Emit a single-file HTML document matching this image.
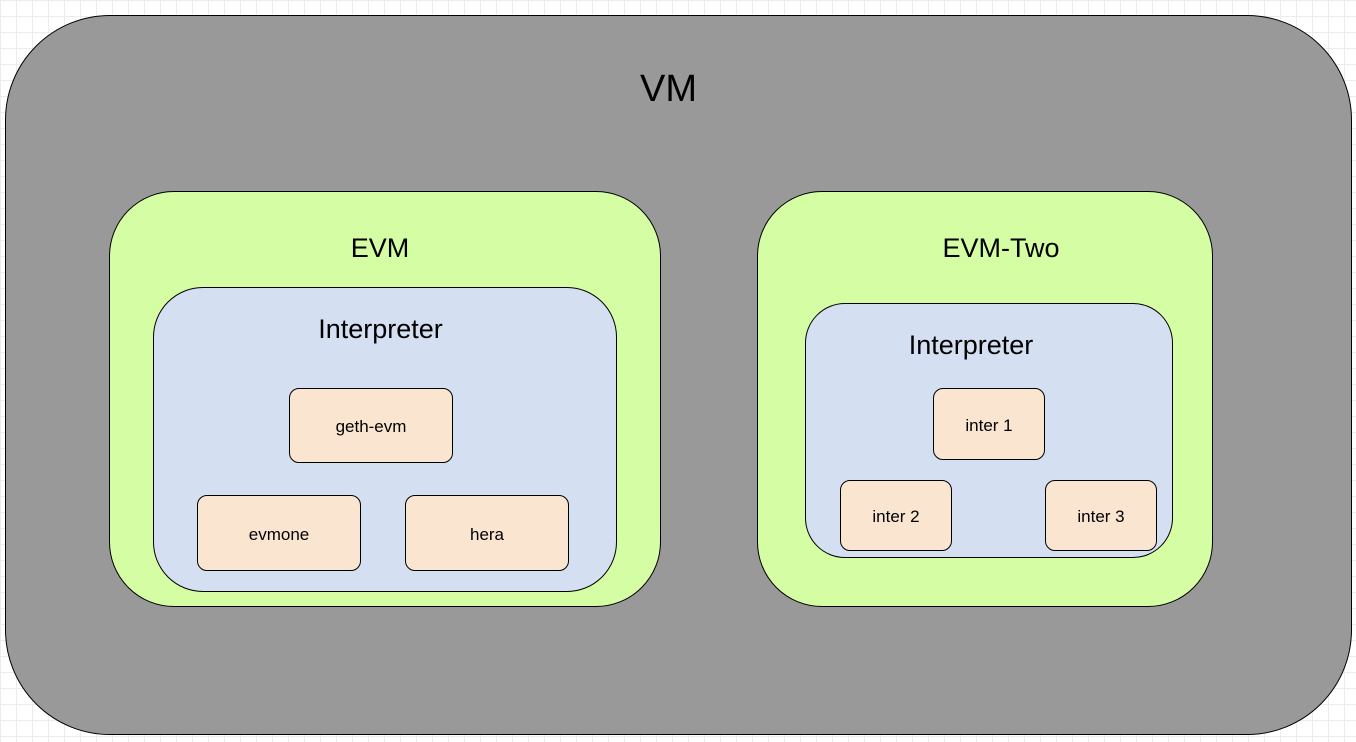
<!DOCTYPE html>
<html><head><style>
body{margin:0;width:1356px;height:742px;overflow:hidden;background:#fff;
background-image:linear-gradient(#ececec 1px,transparent 1px),linear-gradient(90deg,#ececec 1px,transparent 1px);
background-size:16px 16px;font-family:"Liberation Sans",sans-serif;position:relative}
.b{position:absolute;box-sizing:border-box;border:1.5px solid #000}
.t{position:absolute;text-align:center;color:#000}
.s{background:#fae5d0;border-radius:10px;display:flex;align-items:center;justify-content:center;font-size:17px;padding-top:3px}
</style></head><body>
<div class="b" style="left:5px;top:15px;width:1347px;height:720px;border-radius:105px;background:#999"></div>
<div class="t" style="left:5px;width:1327px;top:68px;font-size:38px">VM</div>

<div class="b" style="left:109px;top:191px;width:552px;height:416px;border-radius:65px;background:#d5fda3"></div>
<div class="t" style="left:109px;width:542px;top:233px;font-size:27px">EVM</div>
<div class="b" style="left:153px;top:287px;width:464px;height:305px;border-radius:50px;background:#d4e0f2"></div>
<div class="t" style="left:153px;width:455px;top:314px;font-size:27px">Interpreter</div>
<div class="b s" style="left:289px;top:388px;width:164px;height:75px">geth-evm</div>
<div class="b s" style="left:197px;top:495px;width:164px;height:76px">evmone</div>
<div class="b s" style="left:405px;top:495px;width:164px;height:76px">hera</div>

<div class="b" style="left:757px;top:191px;width:456px;height:416px;border-radius:65px;background:#d5fda3"></div>
<div class="t" style="left:757px;width:488px;top:233px;font-size:27px">EVM-Two</div>
<div class="b" style="left:805px;top:303px;width:368px;height:255px;border-radius:40px;background:#d4e0f2"></div>
<div class="t" style="left:805px;width:332px;top:330px;font-size:27px">Interpreter</div>
<div class="b s" style="left:933px;top:388px;width:112px;height:72px">inter 1</div>
<div class="b s" style="left:840px;top:480px;width:112px;height:71px">inter 2</div>
<div class="b s" style="left:1045px;top:480px;width:112px;height:71px">inter 3</div>
</body></html>
